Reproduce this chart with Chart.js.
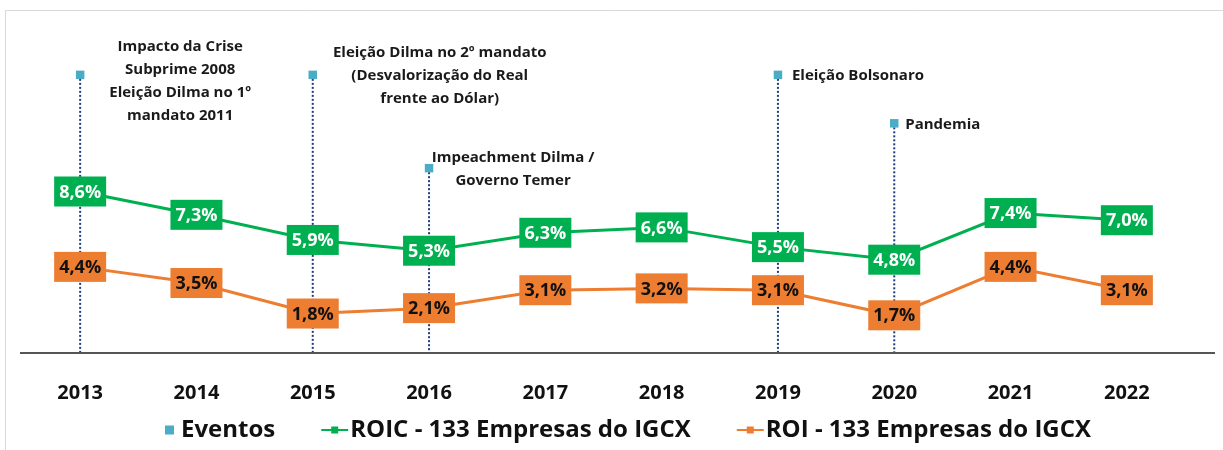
<!DOCTYPE html>
<html>
<head>
<meta charset="utf-8">
<script src="https://cdn.jsdelivr.net/npm/chart.js@4.4.0/dist/chart.umd.min.js"></script>
<style>
    html, body { margin: 0; padding: 0; background: #ffffff; }
    #wrap { position: relative; width: 1223px; height: 450px; }
</style>
</head>
<body>
<div id="wrap"><canvas id="roic-roi-igcx"></canvas></div>
<script>
// dados
var anos = ["2013", "2014", "2015", "2016", "2017", "2018", "2019", "2020", "2021", "2022"];
var roic = [8.6, 7.3, 5.9, 5.3, 6.3, 6.6, 5.5, 4.8, 7.4, 7.0];
var roi = [4.4, 3.5, 1.8, 2.1, 3.1, 3.2, 3.1, 1.7, 4.4, 3.1];
// altura dos marcadores de eventos (mesma escala)
var eventos = [15.1, null, 15.1, 9.9, null, null, 15.1, 12.4, null, null];
var eventosTexto = [
    ["Impacto da Crise", "Subprime 2008", "Eleição Dilma no 1º", "mandato 2011"],
    null,
    ["Eleição Dilma no 2º mandato", "(Desvalorização do Real", "frente ao Dólar)"],
    ["Impeachment Dilma /", "Governo Temer"],
    null, null,
    ["Eleição Bolsonaro"],
    ["Pandemia"],
    null, null
];

var FONTE = "'Open Sans', 'Noto Sans', sans-serif";
var VERDE = "#00B050";
var LARANJA = "#ED7D31";
var CIANO = "#4BACC6";
var AZUL_ESCURO = "#1F3D7A";

// posição dos textos dos eventos em relação ao marcador
var eventosPos = {
    0: { align: "center", dx: 100, dy: -28 },
    2: { align: "center", dx: 127, dy: -22 },
    3: { align: "center", dx: 84, dy: -10 },
    6: { align: "left", dx: 14, dy: 1 },
    7: { align: "left", dx: 11, dy: 1 }
};

function formatPct(v) {
    return v.toFixed(1).replace(".", ",") + "%";
}

var pluginEventos = {
    id: "eventos",
    beforeDatasetsDraw: function(chart) {
        var ctx = chart.ctx;
        var meta = chart.getDatasetMeta(0);
        ctx.save();
        ctx.strokeStyle = AZUL_ESCURO;
        ctx.lineWidth = 2;
        ctx.setLineDash([2, 2]);
        meta.data.forEach(function(pt, i) {
            if (eventos[i] == null) return;
            ctx.beginPath();
            ctx.moveTo(pt.x, pt.y);
            ctx.lineTo(pt.x, chart.chartArea.bottom);
            ctx.stroke();
        });
        ctx.restore();
    },
    afterDatasetsDraw: function(chart) {
        var ctx = chart.ctx;
        ctx.save();
        // textos dos eventos
        var meta = chart.getDatasetMeta(0);
        ctx.font = "bold 15px " + FONTE;
        ctx.fillStyle = "#1a1a1a";
        ctx.textBaseline = "middle";
        meta.data.forEach(function(pt, i) {
            if (!eventosTexto[i]) return;
            var p = eventosPos[i];
            ctx.textAlign = p.align;
            eventosTexto[i].forEach(function(linha, k) {
                ctx.fillText(linha, pt.x + p.dx, pt.y + p.dy + k * 23);
            });
        });
        // caixas de rótulos
        [1, 2].forEach(function(di) {
            var ds = chart.data.datasets[di];
            var m = chart.getDatasetMeta(di);
            ctx.font = "bold 18px " + FONTE;
            ctx.textAlign = "center";
            m.data.forEach(function(pt, i) {
                ctx.fillStyle = ds.borderColor;
                ctx.fillRect(pt.x - 26, pt.y - 15, 52, 30);
                ctx.fillStyle = ds.rotuloCor;
                ctx.fillText(formatPct(ds.data[i]), pt.x, pt.y + 1);
            });
        });
        ctx.restore();
    },
    afterDraw: function(chart) {
        var ctx = chart.ctx;
        var area = chart.chartArea;
        ctx.save();
        // moldura
        ctx.strokeStyle = "#D9D9D9";
        ctx.lineWidth = 1;
        ctx.beginPath();
        ctx.moveTo(5.5, 452);
        ctx.lineTo(5.5, 10.5);
        ctx.lineTo(1223, 10.5);
        ctx.stroke();
        // eixo
        ctx.strokeStyle = "#555555";
        ctx.lineWidth = 2;
        ctx.beginPath();
        ctx.moveTo(20, area.bottom);
        ctx.lineTo(1215, area.bottom);
        ctx.stroke();
        // legenda
        var y = 430;
        ctx.font = "bold 24px " + FONTE;
        ctx.textBaseline = "middle";
        ctx.textAlign = "left";
        var itens = chart.data.datasets.map(function(ds, i) {
            return { texto: ds.label, cor: i === 0 ? CIANO : ds.borderColor, tipo: i === 0 ? "q" : "l" };
        });
        var gap = 46, total = 0;
        itens.forEach(function(it) {
            it.icone = it.tipo === "q" ? 18 : 27;
            it.w = it.icone + 2 + ctx.measureText(it.texto).width;
            total += it.w;
        });
        total += gap * (itens.length - 1);
        var x = 626 - total / 2;
        itens.forEach(function(it) {
            ctx.fillStyle = it.cor;
            if (it.tipo === "q") {
                ctx.fillRect(x + 4, y - 4.5, 9, 9);
            } else {
                ctx.fillRect(x, y - 1, it.icone, 2);
                ctx.fillRect(x + it.icone / 2 - 3.5, y - 3.5, 7, 7);
            }
            ctx.fillStyle = "#111111";
            ctx.fillText(it.texto, x + it.icone + 2, y);
            x += it.w + gap;
        });
        ctx.restore();
    }
};

new Chart(document.getElementById("roic-roi-igcx"), {
    type: "line",
    data: {
        labels: anos,
        datasets: [
            {
                label: "Eventos",
                data: eventos,
                showLine: false,
                pointStyle: "rect",
                pointRadius: 6,
                pointBackgroundColor: CIANO,
                pointBorderWidth: 0,
                borderColor: CIANO,
                backgroundColor: CIANO
            },
            {
                label: "ROIC - 133 Empresas do IGCX",
                data: roic,
                borderColor: VERDE,
                backgroundColor: VERDE,
                borderWidth: 3,
                pointRadius: 0,
                tension: 0,
                rotuloCor: "#ffffff"
            },
            {
                label: "ROI - 133 Empresas do IGCX",
                data: roi,
                borderColor: LARANJA,
                backgroundColor: LARANJA,
                borderWidth: 3,
                pointRadius: 0,
                tension: 0,
                rotuloCor: "#111111"
            }
        ]
    },
    options: {
        responsive: true,
        maintainAspectRatio: false,
        animation: false,
        layout: { padding: { top: 30, left: 22, right: 38, bottom: 0 } },
        plugins: {
            legend: { display: false },
            tooltip: { enabled: false },
            title: { display: false }
        },
        scales: {
            x: {
                offset: true,
                grid: { display: false },
                border: { display: false },
                ticks: {
                    color: "#111111",
                    padding: 20,
                    font: { family: FONTE, size: 20, weight: "bold" }
                },
                afterFit: function(scale) { scale.height = 97; }
            },
            y: {
                display: false,
                min: -0.4,
                max: 17.6
            }
        }
    },
    plugins: [pluginEventos]
});
</script>
</body>
</html>
